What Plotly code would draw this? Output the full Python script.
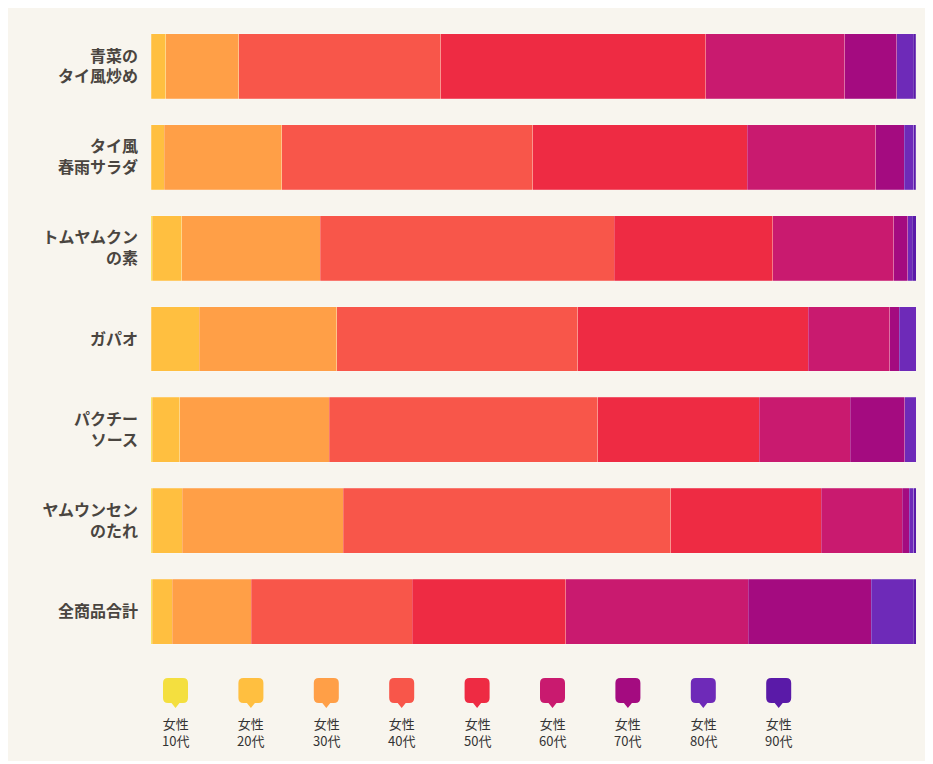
import plotly.graph_objects as go

categories = ["青菜の<br>タイ風炒め", "タイ風<br>春雨サラダ", "トムヤムクン<br>の素", "ガパオ",
              "パクチー<br>ソース", "ヤムウンセン<br>のたれ", "全商品合計"]
age_labels = ["10代", "20代", "30代", "40代", "50代", "60代", "70代", "80代", "90代"]
gender_label = "女性"
colors = ["#F4DF3F", "#FFBF40", "#FF9F47", "#F8564A", "#EE2B43", "#C91A6F", "#A40B80", "#6E2AB8", "#5A1AA8"]

# share (%) per age group, one list per age group, in category order
f10 = [0.0, 0.0, 0.15, 0.0, 0.15, 0.15, 0.15]
f20 = [1.9, 1.74, 3.88, 6.28, 3.62, 3.92, 2.65]
f30 = [9.57, 15.35, 18.09, 18.01, 19.52, 21.09, 10.33]
f40 = [26.4, 32.82, 38.41, 31.52, 35.14, 42.81, 21.01]
f50 = [34.65, 28.06, 20.74, 30.08, 21.05, 19.62, 20.1]
f60 = [18.18, 16.79, 15.82, 10.67, 11.94, 10.59, 23.84]
f70 = [6.8, 3.7, 1.83, 1.27, 7.1, 0.95, 16.08]
f80 = [2.17, 1.22, 0.58, 2.18, 1.49, 0.56, 5.45]
f90 = [0.31, 0.31, 0.52, 0.0, 0.0, 0.31, 0.39]
series = [f10, f20, f30, f40, f50, f60, f70, f80, f90]

OFF = 8  # page body margin
FIG_W, FIG_H = 918, 753
ML, MR, MT, MB = 143, 10, 13, 104
PW = FIG_W - ML - MR
PH = FIG_H - MT - MB


def px2x(px):
    # screen pixel -> paper coordinate
    return (px - OFF - ML) / PW


def py2y(py):
    return (FIG_H - MB - (py - OFF)) / PH


fig = go.Figure()
for name, vals, col in zip(age_labels, series, colors):
    fig.add_trace(go.Bar(
        y=categories, x=vals, orientation="h", name=gender_label + name,
        marker=dict(color=col, line=dict(color="rgba(255,255,255,0.35)", width=0.6)),
        showlegend=False, hoverinfo="x+name",
    ))

shapes = []
annotations = []
for i, (lab, col) in enumerate(zip(age_labels, colors)):
    cx = 175.5 + i * 75.4
    L, R, T, B, r = cx - 12.5, cx + 12.5, 678, 703, 5

    def P(x, y):
        return f"{px2x(x):.5f},{py2y(y):.5f}"
    path = (f"M {P(L + r, T)} L {P(R - r, T)} Q {P(R, T)} {P(R, T + r)} "
            f"L {P(R, B - r)} Q {P(R, B)} {P(R - r, B)} L {P(cx + 4, B)} L {P(cx, 708)} "
            f"L {P(cx - 4, B)} L {P(L + r, B)} Q {P(L, B)} {P(L, B - r)} "
            f"L {P(L, T + r)} Q {P(L, T)} {P(L + r, T)} Z")
    shapes.append(dict(type="path", xref="paper", yref="paper", path=path,
                       fillcolor=col, line=dict(width=0), layer="above"))
    annotations.append(dict(xref="paper", yref="paper", x=px2x(cx), y=py2y(712),
                            xanchor="center", yanchor="top", showarrow=False,
                            text=f"{gender_label}<br>{lab}",
                            font=dict(family="Noto Sans CJK JP", size=13, color="#333333")))

fig.update_layout(
    width=FIG_W, height=FIG_H,
    margin=dict(l=ML, r=MR, t=MT, b=MB, autoexpand=False),
    barmode="stack", bargap=0.286,
    paper_bgcolor="#F8F5EE", plot_bgcolor="rgba(0,0,0,0)",
    xaxis=dict(range=[0, 100], visible=False, fixedrange=True),
    yaxis=dict(autorange="reversed", showgrid=False, zeroline=False, showline=False,
               ticks="", ticklabelstandoff=12,
               tickfont=dict(family="Noto Sans CJK JP", size=16, color="#4A4540", weight="bold")),
    shapes=shapes, annotations=annotations,
    font=dict(family="Noto Sans CJK JP"),
)

fig.write_html("out.html")
